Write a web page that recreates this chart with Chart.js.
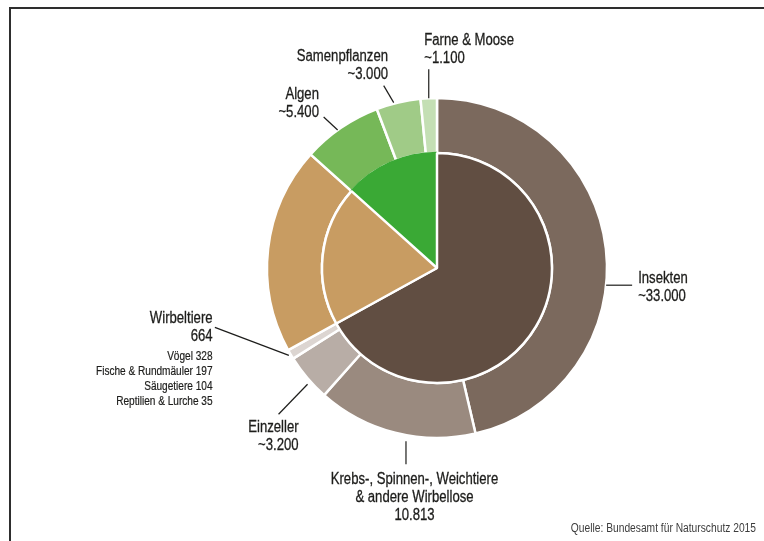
<!DOCTYPE html>
<html lang="de">
<head>
<meta charset="utf-8">
<title>Artenzahlen in Deutschland</title>
<script src="https://cdn.jsdelivr.net/npm/chart.js@4.4.0/dist/chart.umd.min.js"></script>
<style>
  html, body { margin: 0; padding: 0; background: #fff; overflow: hidden; }
  #rahmen { position: absolute; left: 9px; top: 7px; width: 800px; height: 600px; border: 2px solid #2e2e2e; }
  #diagramm { position: absolute; left: 0; top: 0; }
</style>
</head>
<body>
<div id="rahmen"></div>
<canvas id="diagramm" width="764" height="541"></canvas>
<script>
// Äußerer Ring: Artengruppen
const aussenNamen = ['Insekten', 'Krebs-, Spinnen-, Weichtiere\n& andere Wirbellose', 'Einzeller', 'Wirbeltiere', 'Pilze', 'Algen', 'Samenpflanzen', 'Farne & Moose'];
const aussenWerte = [33000, 10813, 3200, 664, 14000, 5400, 3000, 1100];
const aussenUngefaehr = [true, false, true, false, true, true, true, true];
const aussenFarben = ['#7b695d', '#9a8a7f', '#b8ada6', '#dcd5d1', '#c89c62', '#76b858', '#a0cb87', '#c4dfb4'];

// Innerer Kreis: Reiche (Pflanzen zuerst, damit ihr Rand über dem Ring liegt)
const innenNamen = ['Pflanzen', 'Tiere & Einzeller', 'Pilze'];
const innenWerte = [9500, 47677, 14000];
const innenFarben = ['#3aa935', '#614e42', '#c89c62'];

// Wirbeltiere im Einzelnen
const wirbeltierNamen = ['Vögel', 'Fische & Rundmäuler', 'Säugetiere', 'Reptilien & Lurche'];
const wirbeltierWerte = [328, 197, 104, 35];

const schrift = '"Liberation Sans", Arial, sans-serif';
const schmal = 0.82; // schmal laufende Schrift
const textFarbe = '#1d1d1b';

// Pflanzen beginnen vor 12 Uhr, damit Tiere wie im äußeren Ring oben starten
const innenSumme = innenWerte.reduce((a, b) => a + b, 0);
const innenDrehung = -360 * innenWerte[0] / innenSumme;

// Lage der Beschriftungen: Anteil im Bogen, Abstand, Linie, Textversatz
const beschriftung = [
    { i: 0, at: 0.574, gap: 0, dx: 26, dy: 0, align: 'left', tx: 6, ty: -2.5 },
    { i: 1, at: 0.425, gap: 6, dx: 0, dy: 23, align: 'center', tx: 8.5, ty: 20 },
    { i: 2, at: 0.4, gap: 4, dx: -29, dy: 30, align: 'right', tx: 20, ty: 18 },
    { i: 3, at: 0.5, gap: 2, dx: -74, dy: -28, align: 'right', tx: -2.3, ty: -4.3 },
    { i: 5, at: 0.45, gap: 0, dx: -14, dy: -13, align: 'right', tx: -4.7, ty: -18 },
    { i: 6, at: 0.4, gap: 1, dx: -10, dy: -17, align: 'right', tx: 4.3, ty: -24.6 },
    { i: 7, at: 0.5, gap: 0, dx: 0, dy: -29, align: 'left', tx: -4.5, ty: -24 }
];

function zahl(v) {
    return v.toLocaleString('de-DE');
}

// Text schmal gestaucht und mit feiner Kontur etwas kräftiger
function schmalText(ctx, text, x, y, kontur) {
    ctx.save();
    ctx.translate(x, y);
    ctx.scale(schmal, 1);
    ctx.fillText(text, 0, 0);
    if (kontur) {
        ctx.lineWidth = kontur;
        ctx.strokeText(text, 0, 0);
    }
    ctx.restore();
}

const beschriftungPlugin = {
    id: 'beschriftung',
    afterDraw(chart) {
        const ctx = chart.ctx;
        const boegen = chart.getDatasetMeta(0).data;
        ctx.save();
        ctx.strokeStyle = textFarbe;
        ctx.fillStyle = textFarbe;
        ctx.textBaseline = 'alphabetic';

        beschriftung.forEach(b => {
            const p = boegen[b.i].getProps(['x', 'y', 'startAngle', 'endAngle', 'outerRadius'], true);
            const winkel = p.startAngle + (p.endAngle - p.startAngle) * b.at;
            const r = p.outerRadius + b.gap;
            const x0 = p.x + Math.cos(winkel) * r;
            const y0 = p.y + Math.sin(winkel) * r;
            const x1 = x0 + b.dx;
            const y1 = y0 + b.dy;
            ctx.lineWidth = 1.2;
            ctx.beginPath();
            ctx.moveTo(x0, y0);
            ctx.lineTo(x1, y1);
            ctx.stroke();

            const zeilen = aussenNamen[b.i].split('\n');
            zeilen.push((aussenUngefaehr[b.i] ? '~' : '') + zahl(aussenWerte[b.i]));
            ctx.font = '16px ' + schrift;
            ctx.textAlign = b.align;
            zeilen.forEach((z, k) => schmalText(ctx, z, x1 + b.tx, y1 + b.ty + k * 18, 0.3));

            // Aufschlüsselung unter „Wirbeltiere“
            if (b.i === 3) {
                ctx.font = '12.3px ' + schrift;
                const basis = y1 + b.ty + (zeilen.length - 1) * 18 + 19.4;
                wirbeltierNamen.forEach((n, k) => {
                    schmalText(ctx, n + ' ' + wirbeltierWerte[k], x1 + b.tx, basis + k * 14.7, 0.2);
                });
            }
        });

        ctx.font = '12.5px ' + schrift;
        ctx.fillStyle = '#3c3c3c';
        ctx.textAlign = 'right';
        schmalText(ctx, 'Quelle: Bundesamt für Naturschutz 2015', 756, 531.5, 0);
        ctx.restore();
    }
};

const ctx = document.getElementById('diagramm').getContext('2d');
const myChart = new Chart(ctx, {
    type: 'doughnut',
    data: {
        labels: aussenNamen,
        datasets: [{
            label: 'Artengruppen',
            data: aussenWerte,
            backgroundColor: aussenFarben,
            borderColor: '#ffffff',
            borderWidth: 2.5,
            weight: 55,
            order: 1
        }, {
            label: 'Reiche',
            data: innenWerte,
            backgroundColor: innenFarben,
            borderColor: [innenFarben[0], '#ffffff', '#ffffff'], // grüner Rand deckt die weiße Fuge zum Ring ab
            borderWidth: 2.5,
            weight: 115,
            rotation: innenDrehung,
            order: 0
        }]
    },
    options: {
        responsive: false,
        animation: false,
        events: [],
        cutout: 0,
        radius: 170,
        layout: { padding: { left: 140, right: 30, top: 0, bottom: 5 } },
        plugins: {
            legend: { display: false },
            tooltip: { enabled: false }
        }
    },
    plugins: [beschriftungPlugin]
});
</script>
</body>
</html>
